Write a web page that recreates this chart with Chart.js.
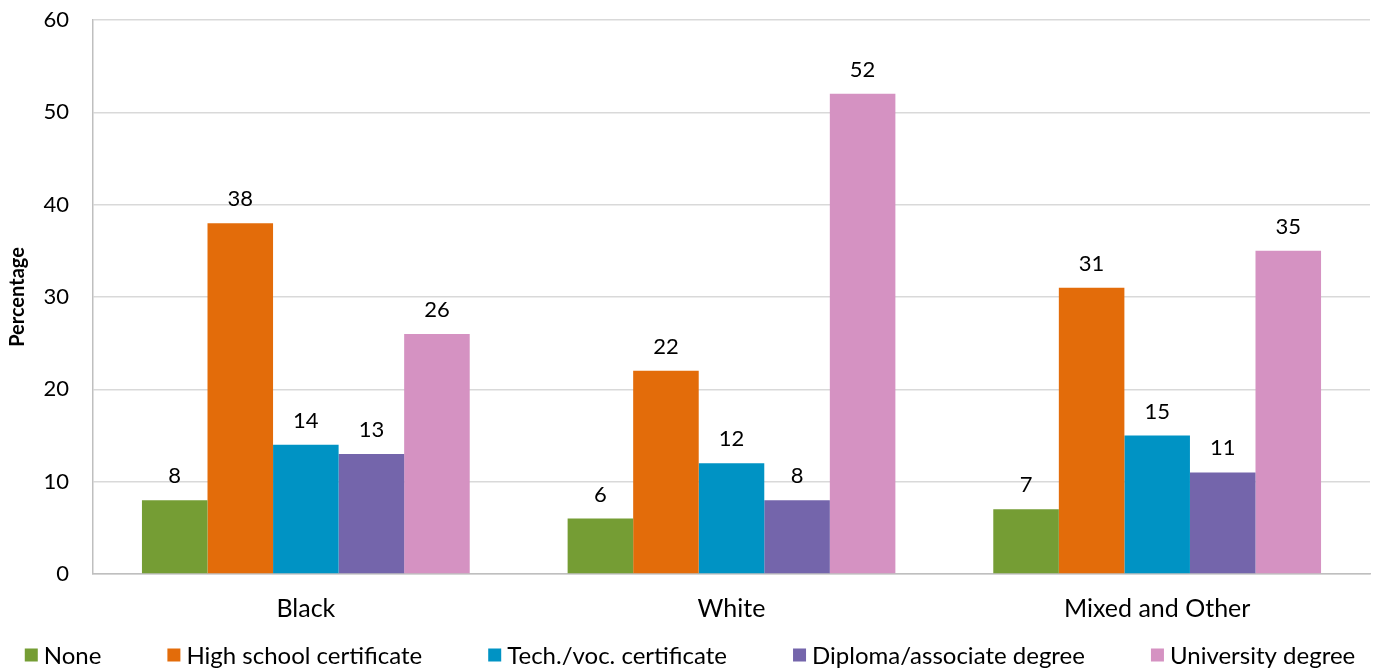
<!DOCTYPE html>
<html>
<head>
<meta charset="utf-8">
<script src="https://cdn.jsdelivr.net/npm/chart.js@4/dist/chart.umd.min.js"></script>
<style>
  html, body { margin: 0; padding: 0; background: #fff; }
  #wrap { width: 1380px; height: 671px; position: relative; }
</style>
</head>
<body>
<div id="wrap"><canvas id="c"></canvas></div>
<script>
const categories = ["Black", "White", "Mixed and Other"];
const seriesNames = ["None", "High school certificate", "Tech./voc. certificate", "Diploma/associate degree", "University degree"];
const noneValues = [8, 6, 7];
const highSchoolValues = [38, 22, 31];
const techVocValues = [14, 12, 15];
const diplomaValues = [13, 8, 11];
const universityValues = [26, 52, 35];
const seriesColors = ["#759d34", "#e36c0a", "#0093c4", "#7465ab", "#d592c2"];
const yTicks = [0, 10, 20, 30, 40, 50, 60];
const yTitle = "Percentage";

const FONT = "Lato, 'Open Sans', sans-serif";
const seriesValues = [noneValues, highSchoolValues, techVocValues, diplomaValues, universityValues];

const dataLabels = {
  id: 'dataLabels',
  afterDatasetsDraw(chart) {
    const ctx = chart.ctx;
    ctx.save();
    ctx.font = "22px " + FONT;
    ctx.fillStyle = "#000";
    ctx.textAlign = "center";
    ctx.textBaseline = "alphabetic";
    chart.data.datasets.forEach((ds, i) => {
      const meta = chart.getDatasetMeta(i);
      meta.data.forEach((bar, j) => {
        ctx.fillText(String(ds.data[j]), bar.x, bar.y - 17);
      });
    });
    ctx.restore();
  }
};

const bottomLegend = {
  id: 'bottomLegend',
  afterDraw(chart) {
    const ctx = chart.ctx;
    ctx.save();
    ctx.font = "24px " + FONT;
    const box = 13, gapText = 6, gapItem = 66;
    const items = chart.data.datasets.map(ds => ({
      text: ds.label, color: ds.backgroundColor,
      w: box + gapText + ctx.measureText(ds.label).width
    }));
    const total = items.reduce((a, it) => a + it.w, 0) + gapItem * (items.length - 1);
    let x = (chart.width - total) / 2;
    const cy = 655;
    ctx.textBaseline = "middle";
    ctx.textAlign = "left";
    items.forEach(it => {
      ctx.fillStyle = it.color;
      ctx.fillRect(x, cy - box / 2, box, box);
      ctx.fillStyle = "#000";
      ctx.fillText(it.text, x + box + gapText, cy + 1);
      x += it.w + gapItem;
    });
    ctx.restore();
  }
};

new Chart(document.getElementById('c'), {
  type: 'bar',
  data: {
    labels: categories,
    datasets: seriesNames.map((name, i) => ({
      label: name,
      data: seriesValues[i],
      backgroundColor: seriesColors[i],
      borderWidth: 0,
      categoryPercentage: 0.77,
      barPercentage: 1.0
    }))
  },
  options: {
    responsive: true,
    maintainAspectRatio: false,
    animation: false,
    layout: { padding: { top: 20, right: 10, left: 0, bottom: 0 } },
    plugins: {
      legend: { display: false },
      tooltip: { enabled: false }
    },
    scales: {
      x: {
        grid: { display: false, drawTicks: false },
        border: { display: true, color: "#bfbfbf", width: 1.5 },
        ticks: { color: "#000", font: { family: FONT, size: 25 }, padding: 20 },
        afterFit(s) { s.height = 97; s.paddingLeft = 0; s.paddingRight = 0; }
      },
      y: {
        min: 0, max: 60,
        afterBuildTicks(s) { s.ticks = yTicks.map(v => ({ value: v })); },
        grid: { color: "#d9d9d9", lineWidth: 1.5, drawTicks: false },
        border: { display: true, color: "#bfbfbf", width: 1.5 },
        ticks: { color: "#000", font: { family: FONT, size: 22 }, padding: 24 },
        title: { display: true, text: yTitle, color: "#000", font: { family: FONT, size: 20, weight: 'bold' }, padding: { top: 6, bottom: 0 } },
        afterFit(s) { s.width = 93; s.paddingTop = 0; s.paddingBottom = 0; }
      }
    }
  },
  plugins: [dataLabels, bottomLegend]
});
</script>
</body>
</html>
